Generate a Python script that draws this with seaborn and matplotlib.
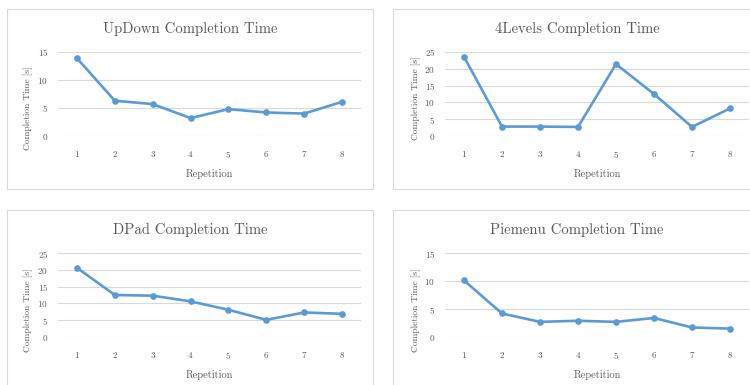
import matplotlib
matplotlib.use("Agg")
import matplotlib.pyplot as plt
import seaborn as sns
from matplotlib.patches import Rectangle

# Datos
repeticiones = [1, 2, 3, 4, 5, 6, 7, 8]
updown = [13.9, 6.3, 5.7, 3.2, 4.8, 4.2, 4.0, 6.1]
levels4 = [23.6, 2.8, 2.8, 2.7, 21.4, 12.5, 2.7, 8.2]
dpad = [20.6, 12.5, 12.3, 10.6, 8.1, 5.1, 7.3, 6.9]
piemenu = [10.1, 4.2, 2.7, 2.9, 2.7, 3.4, 1.7, 1.5]

titulos = ["UpDown Completion Time", "4Levels Completion Time",
           "DPad Completion Time", "Piemenu Completion Time"]
series = [updown, levels4, dpad, piemenu]
y_max = [15, 25, 25, 15]

sns.set_theme(style="white")
plt.rcParams['font.family'] = ['cmr10', 'DejaVu Serif']
plt.rcParams['axes.formatter.use_mathtext'] = True

AZUL = "#5B9BD5"
GRIS_TXT = "#595959"
GRIS_LIN = "#D9D9D9"

W, H = 750, 385
fig = plt.figure(figsize=(7.5, 3.85), dpi=100)

def px_rect(x0, y0, x1, y1):
    # pixeles (origen arriba) -> fraccion de figura
    return [x0 / W, 1 - y1 / H, (x1 - x0) / W, (y1 - y0) / H]

# cajas de cada panel
cajas = [(7, 9, 373, 189), (393, 9, 760, 189), (7, 210, 373, 400), (393, 210, 760, 400)]
for (x0, y0, x1, y1) in cajas:
    fig.patches.append(Rectangle((x0 / W, 1 - y1 / H), (x1 - x0) / W, (y1 - y0) / H,
                                 transform=fig.transFigure, fill=False,
                                 edgecolor=GRIS_LIN, linewidth=0.8))

# zonas de trazado
areas = [(58, 52, 361, 136), (445, 52, 749, 136), (58, 253, 361, 337), (445, 253, 749, 337)]
titulo_pos = [(190, 29), (577, 29), (190, 230), (577, 230)]
ylabel_x = [-0.083, -0.079, -0.083, -0.079]
ylabel_y = [0.33, 0.45, 0.32, 0.32]

for i in range(4):
    ax = fig.add_axes(px_rect(*areas[i]))
    sns.lineplot(x=repeticiones, y=series[i], ax=ax, color=AZUL, linewidth=1.9,
                 marker='o', markersize=4.8, markeredgewidth=0)
    ax.set_xlim(0.5, 8.5)
    ax.set_ylim(0, y_max[i])
    ax.set_yticks(range(0, y_max[i] + 1, 5))
    ax.set_xticks(repeticiones)
    ax.yaxis.grid(True, color=GRIS_LIN, linewidth=0.8)
    ax.xaxis.grid(False)
    ax.set_axisbelow(True)
    for s in ax.spines.values():
        s.set_visible(False)
    ax.tick_params(axis='x', length=0, pad=9.5, labelsize=6.6, labelcolor=GRIS_TXT)
    ax.tick_params(axis='y', length=0, pad=7, labelsize=6.6, labelcolor=GRIS_TXT)
    ax.set_xlabel("Repetition", fontsize=7.5, color=GRIS_TXT)
    ax.set_ylabel("Completion Time [s]", fontsize=6.8, color=GRIS_TXT)
    ax.xaxis.set_label_coords(0.5, -0.39)
    ax.yaxis.set_label_coords(ylabel_x[i], ylabel_y[i])
    tx, ty = titulo_pos[i]
    fig.text(tx / W, 1 - ty / H, titulos[i], ha='center', va='center',
             fontsize=10.6, color=GRIS_TXT)

plt.savefig("out.png", dpi=100)
plt.close()
